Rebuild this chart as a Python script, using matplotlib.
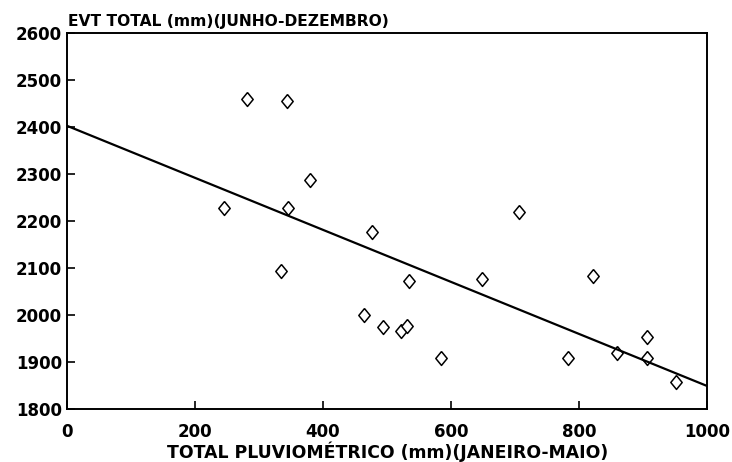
import numpy as np
import matplotlib.pyplot as plt

# rainfall Jan-May (mm) vs total evapotranspiration Jun-Dec (mm)
chuva = [282, 343, 380, 246, 346, 706, 476, 335, 534, 648,
         464, 493, 522, 531, 585, 821, 782, 859, 906, 906, 952]
evt = [2459, 2456, 2288, 2229, 2229, 2219, 2176, 2094, 2073, 2077,
       2000, 1975, 1967, 1977, 1909, 2083, 1908, 1920, 1954, 1908, 1857]

# fitted line
intercepto = 2403
inclinacao = -0.554

x_ticks = [0, 200, 400, 600, 800, 1000]
y_ticks = [1800, 1900, 2000, 2100, 2200, 2300, 2400, 2500, 2600]

plt.rcParams['font.family'] = ['DejaVu Sans']

fig = plt.figure(figsize=(7.32, 4.62), dpi=100)
ax = fig.add_axes([0.0915, 0.1147, 0.8745, 0.8133])

# open diamond marker, a bit taller than wide
losango = [(0, 1), (0.82, 0), (0, -1), (-0.82, 0), (0, 1)]
ax.plot(chuva, evt, linestyle='none', marker=losango, markersize=10,
        markerfacecolor='white', markeredgecolor='black', markeredgewidth=1.1)

xl = np.array([0, 1000])
ax.plot(xl, intercepto + inclinacao * xl, color='black', linewidth=1.6)

ax.set_xlim(0, 1000)
ax.set_ylim(1800, 2600)
ax.set_xticks(x_ticks)
ax.set_yticks(y_ticks)
ax.tick_params(direction='in', length=6, width=1.2, labelsize=12)
ax.tick_params(axis='x', pad=10)
ax.tick_params(axis='y', pad=3.5)
for lab in ax.get_xticklabels() + ax.get_yticklabels():
    lab.set_fontweight('bold')
for s in ax.spines.values():
    s.set_linewidth(1.4)

fig.text(0.53, 0.009, 'TOTAL PLUVIOMÉTRICO (mm)(JANEIRO-MAIO)', fontsize=12.4,
         fontweight='bold', ha='center', va='baseline')
fig.text(0.093, 0.944, 'EVT TOTAL (mm)(JUNHO-DEZEMBRO)', fontsize=11.2,
         fontweight='bold', ha='left', va='baseline')

fig.savefig('out.png', dpi=100)
